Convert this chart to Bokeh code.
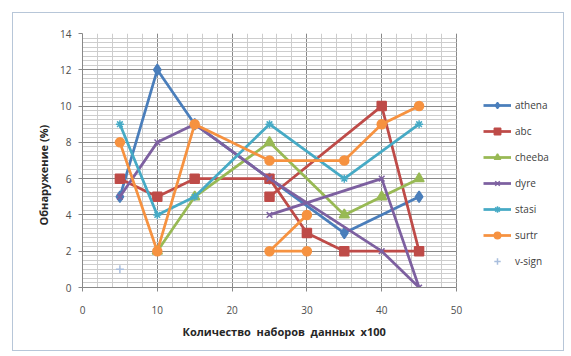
import numpy as np
from bokeh.plotting import figure
from bokeh.models import (Legend, LegendItem, SingleIntervalTicker, Range1d, Title)
from bokeh.embed import file_html
from bokeh.resources import INLINE

nan = np.nan

# Detection rate (%) per number of data sets (x100), points in recorded order
athena_x = [5, 10, 15, 25, 35, 45]
athena_y = [5, 12, 9, 6, 3, 5]

abc_x = [5, 10, 15, 25, 30, 35, 45, 40, 25]
abc_y = [6, 5, 6, 6, 3, 2, 2, 10, 5]

cheeba_x = [10, 15, 25, 35, 40, 45]
cheeba_y = [2, 5, 8, 4, 5, 6]

dyre_x = [5, 10, 15, 25, 40, 45, 40, 25]
dyre_y = [5, 8, 9, 6, 2, 0, 6, 4]

stasi_x = [5, 10, 15, 25, 35, 45]
stasi_y = [9, 4, 5, 9, 6, 9]

surtr_x = [5, 10, 15, 25, 35, 40, 45, nan, 30, 25, 30]
surtr_y = [8, 2, 9, 7, 7, 9, 10, nan, 2, 2, 4]

vsign_x = [5]
vsign_y = [1]

series = [
    ("athena", athena_x, athena_y, "#4A7EBB", "diamond", 11),
    ("abc", abc_x, abc_y, "#BE4B48", "square", 9),
    ("cheeba", cheeba_x, cheeba_y, "#98B954", "triangle", 10),
    ("dyre", dyre_x, dyre_y, "#7D60A0", "x", 8),
    ("stasi", stasi_x, stasi_y, "#46AAC5", "asterisk", 8),
    ("surtr", surtr_x, surtr_y, "#F69240", "circle", 9),
    ("v-sign", vsign_x, vsign_y, "#A9BEDD", "cross", 8),
]

FONT = "Open Sans"
NB = "\u00a0\u00a0"
X_TITLE = NB.join(["Количество", "наборов", "данных", "x100"])
Y_TITLE = "Обнаружение (%)"

X_MAX = 50
Y_MAX = 14
PX_PER_UNIT = 7.48   # horizontal scale of the plot area
FRAME_W = 483        # plot area plus the legend strip to its right

p = figure(width=552, height=339, output_backend="svg", toolbar_location=None,
           x_range=Range1d(0, FRAME_W / PX_PER_UNIT), y_range=Range1d(0, Y_MAX),
           min_border_left=69, min_border_right=0,
           min_border_top=20, min_border_bottom=65,
           margin=(12, 0, 0, 12),
           styles={"border": "1px solid #B7C6D8"})

p.background_fill_color = "white"
p.border_fill_color = "white"
p.outline_line_color = None

p.xaxis.ticker = SingleIntervalTicker(interval=10, num_minor_ticks=5)
p.yaxis.ticker = SingleIntervalTicker(interval=2, num_minor_ticks=8)
p.xaxis.bounds = (0, X_MAX)

for ax in (p.xaxis[0], p.yaxis[0]):
    ax.axis_line_color = "#888888"
    ax.major_tick_line_color = "#888888"
    ax.major_tick_out = 4
    ax.major_tick_in = 0
    ax.minor_tick_line_color = None
    ax.major_label_text_font = FONT
    ax.major_label_text_font_size = "10px"
    ax.major_label_text_color = "#4D4D4D"

p.xaxis.major_label_standoff = 14
p.yaxis.major_label_standoff = 7

# axis titles, placed relative to the whole chart area
xt = Title(text=X_TITLE, align="left", offset=100, standoff=10,
           text_font=FONT, text_font_size="11px", text_font_style="bold",
           text_color="#262626")
p.add_layout(xt, "below")
yt = Title(text=Y_TITLE, align="left", offset=62, standoff=14,
           text_font=FONT, text_font_size="11px", text_font_style="bold",
           text_color="#262626")
p.add_layout(yt, "left")

# grid only spans the 0..50 plot area; the strip to the right holds the legend
p.xgrid.bounds = (0, X_MAX)
p.ygrid.cross_bounds = (0, X_MAX)
p.xgrid.grid_line_color = "#888888"
p.ygrid.grid_line_color = "#888888"
p.xgrid.minor_grid_line_color = "#CDCDCD"
p.ygrid.minor_grid_line_color = "#CDCDCD"

items = []
for name, xs, ys, color, marker, size in series:
    rends = []
    if len(xs) > 1:
        rends.append(p.line(xs, ys, line_color=color, line_width=2.75))
    rends.append(p.scatter(xs, ys, marker=marker, size=size, fill_color=color,
                           line_color=color, line_width=1.5))
    items.append(LegendItem(label=name, renderers=rends))

legend = Legend(items=items, location=(401, 18), margin=0, padding=0,
                spacing=10, glyph_width=28, glyph_height=16, label_height=16,
                label_standoff=4, border_line_color=None,
                background_fill_alpha=0,
                label_text_font=FONT, label_text_font_size="10px",
                label_text_color="#404040")
p.add_layout(legend)

open("out.html", "w").write(file_html(p, INLINE))
